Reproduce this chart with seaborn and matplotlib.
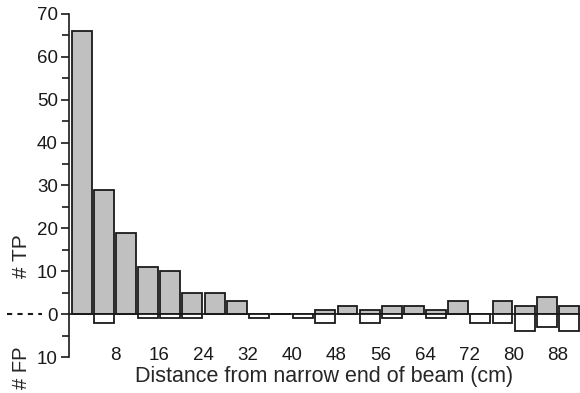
import numpy as np
import pandas as pd
import matplotlib.pyplot as plt
import seaborn as sns
from matplotlib.ticker import MultipleLocator, FuncFormatter
import matplotlib.transforms as mtransforms

# ----------------------------
# Data (counts per 4 cm bin)
# ----------------------------
bin_center = [2, 6, 10, 14, 18, 22, 26, 30, 34, 38, 42, 46,
              50, 54, 58, 62, 66, 70, 74, 78, 82, 86, 90]
tp_counts = [66, 29, 19, 11, 10, 5, 5, 3, 0, 0, 0, 1,
             2, 1, 2, 2, 1, 3, 0, 3, 2, 4, 2]
fp_counts = [0, 2, 0, 1, 1, 1, 0, 0, 1, 0, 1, 2,
             0, 2, 1, 0, 1, 0, 2, 2, 4, 3, 4]
x_ticks = [8, 16, 24, 32, 40, 48, 56, 64, 72, 80, 88]

df = pd.DataFrame({'dist': bin_center, 'tp': tp_counts,
                   'fp': [-v for v in fp_counts]})

sns.set_style("ticks")
plt.rcParams['font.family'] = ['Liberation Sans', 'DejaVu Sans']

fig = plt.figure(figsize=(5.8, 3.93), dpi=100)
ax = fig.add_axes([69/580, 36/393, 511/580, 343/393])

# TP bars up, FP bars down
sns.barplot(data=df, x='dist', y='tp', native_scale=True, width=0.9,
            color='#c0c0c0', saturation=1, edgecolor='#1a1a1a',
            linewidth=1.3, errorbar=None, ax=ax)
sns.barplot(data=df, x='dist', y='fp', native_scale=True, width=0.9,
            color='white', saturation=1, edgecolor='#1a1a1a',
            linewidth=1.3, errorbar=None, ax=ax)
ax.axhline(0, color='#1a1a1a', lw=1.2, zorder=0.5)

ax.set_xlim(-0.3, 92)
ax.set_ylim(-10, 70)

# y axis: major every 10, minor every 5, labels as absolute counts
ax.yaxis.set_major_locator(MultipleLocator(10))
ax.yaxis.set_minor_locator(MultipleLocator(5))
ax.yaxis.set_major_formatter(FuncFormatter(lambda v, p: f"{abs(int(v))}"))
ax.tick_params(axis='y', which='major', length=6, width=1.2,
               labelsize=13.5, pad=2, colors='#1a1a1a')
ax.tick_params(axis='y', which='minor', length=5, width=1.2, colors='#1a1a1a')

# x tick labels sit just above the -10 level (hidden bottom spine moved up)
ax.set_xticks(x_ticks)
ax.set_xticklabels([str(t) for t in x_ticks])
ax.spines['bottom'].set_position(('data', -7.6))
ax.spines['bottom'].set_visible(False)
ax.tick_params(axis='x', length=0, labelsize=13.5, pad=0, colors='#1a1a1a')

sns.despine(ax=ax, bottom=True)
ax.spines['left'].set_linewidth(1.2)
ax.spines['left'].set_color('#1a1a1a')

ax.set_xlabel('Distance from narrow end of beam (cm)', fontsize=15.5, labelpad=2)
ax.set_ylabel('')

# side labels and dashed zero marker
trans = mtransforms.blended_transform_factory(ax.transAxes, ax.transData)
ax.text(-0.092, 13.5, '# TP', rotation=90, ha='center', va='center',
        fontsize=15, transform=trans, clip_on=False)
ax.text(-0.092, -12.4, '# FP', rotation=90, ha='center', va='center',
        fontsize=14.5, transform=trans, clip_on=False)
ax.plot([-0.121, -0.053], [0, 0], transform=trans, clip_on=False,
        color='#1a1a1a', lw=1.5, dashes=(2.5, 2.5))

fig.savefig('out.png', dpi=100)
